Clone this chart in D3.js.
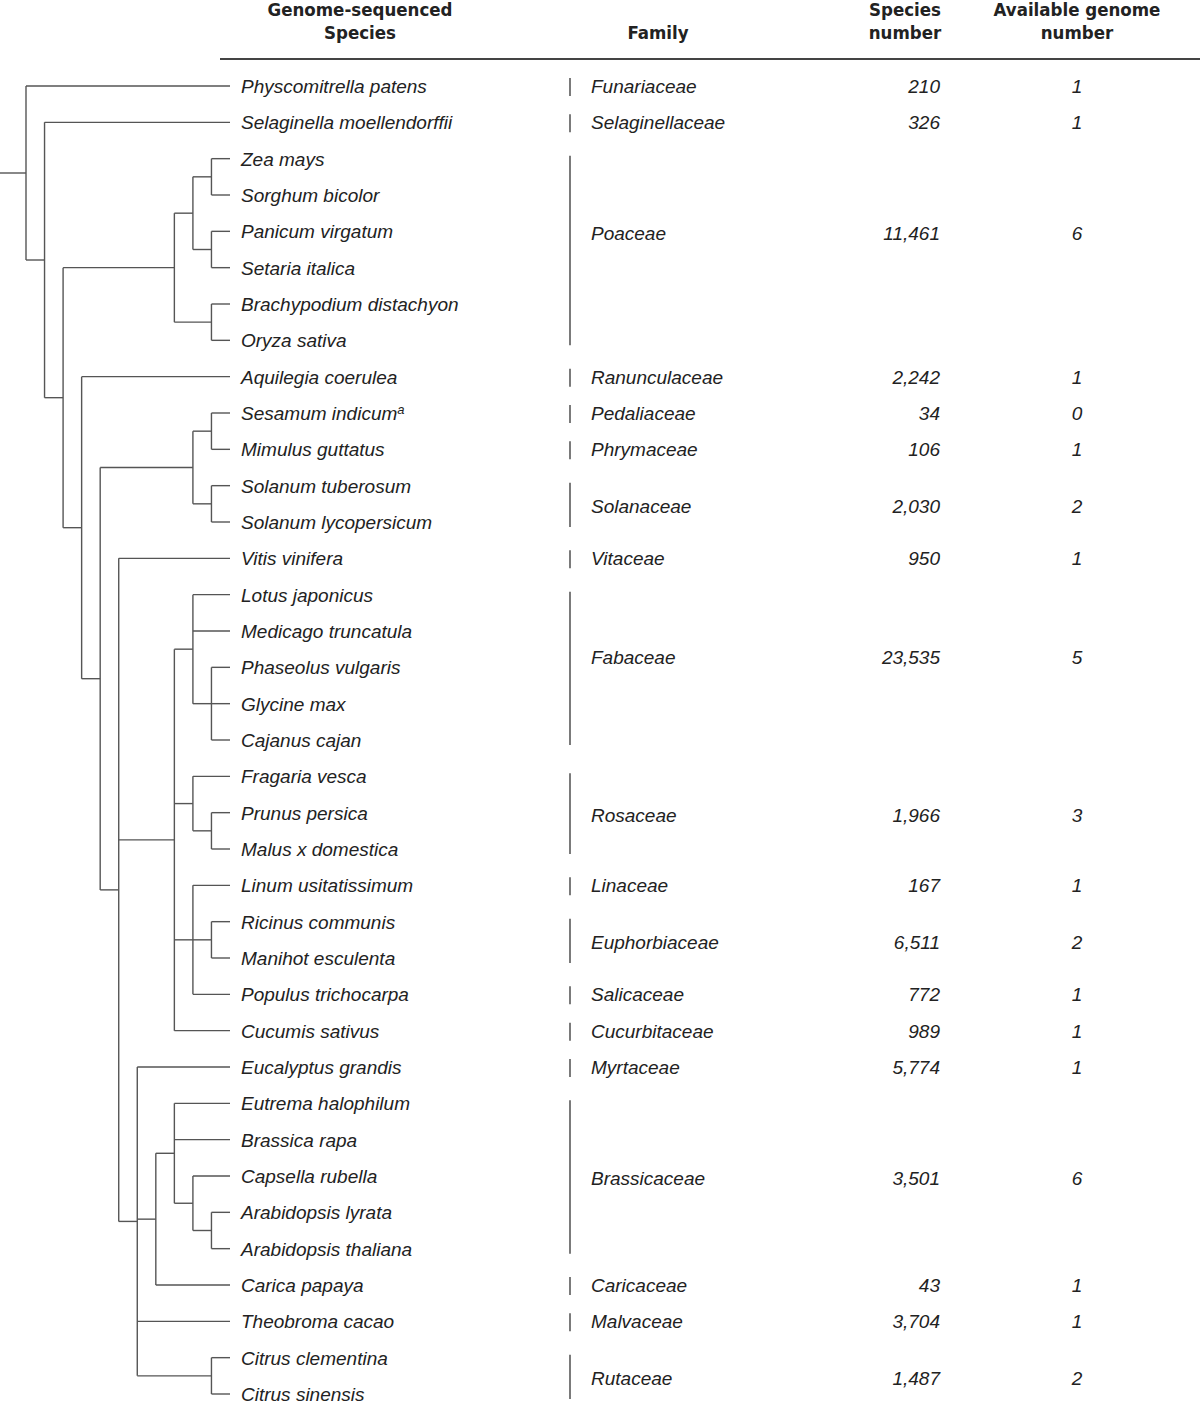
<!DOCTYPE html>
<html>
<head>
<meta charset="utf-8">
<script src="https://cdn.jsdelivr.net/npm/d3@7/dist/d3.min.js"></script>
<style>
  html, body { margin: 0; padding: 0; background: #fff; }
  svg { display: block; }
  .hdr { font-family: "Liberation Sans Narrow", "DejaVu Sans Condensed", "Liberation Sans", sans-serif; font-weight: bold; font-size: 18.5px; fill: #222; }
  .it { font-family: "Liberation Sans", Arial, sans-serif; font-style: italic; font-size: 19px; fill: #222; }
</style>
</head>
<body>
<svg id="chart" width="1200" height="1406"></svg>
<script>
// ---------------- DATA ----------------
// Phylogeny topology (nested lists of genome-sequenced species)
const phylogeny = [
  "Physcomitrella patens",
  ["Selaginella moellendorffii",
    [
      [[["Zea mays", "Sorghum bicolor"], ["Panicum virgatum", "Setaria italica"]],
        ["Brachypodium distachyon", "Oryza sativa"]],
      ["Aquilegia coerulea",
        [
          [["Sesamum indicum", "Mimulus guttatus"], ["Solanum tuberosum", "Solanum lycopersicum"]],
          ["Vitis vinifera",
            [
              ["Lotus japonicus", "Medicago truncatula", ["Phaseolus vulgaris", "Glycine max", "Cajanus cajan"]],
              ["Fragaria vesca", ["Prunus persica", "Malus x domestica"]],
              ["Linum usitatissimum", ["Ricinus communis", "Manihot esculenta"], "Populus trichocarpa"],
              "Cucumis sativus"
            ],
            ["Eucalyptus grandis",
              [["Eutrema halophilum", "Brassica rapa", ["Capsella rubella", ["Arabidopsis lyrata", "Arabidopsis thaliana"]]],
                "Carica papaya"],
              "Theobroma cacao",
              ["Citrus clementina", "Citrus sinensis"]
            ]
          ]
        ]
      ]
    ]
  ]
];

const superscripted = { "Sesamum indicum": "a" };

const families = ["Funariaceae", "Selaginellaceae", "Poaceae", "Ranunculaceae", "Pedaliaceae",
  "Phrymaceae", "Solanaceae", "Vitaceae", "Fabaceae", "Rosaceae", "Linaceae", "Euphorbiaceae",
  "Salicaceae", "Cucurbitaceae", "Myrtaceae", "Brassicaceae", "Caricaceae", "Malvaceae", "Rutaceae"];
const familyFirst = ["Physcomitrella patens", "Selaginella moellendorffii", "Zea mays", "Aquilegia coerulea",
  "Sesamum indicum", "Mimulus guttatus", "Solanum tuberosum", "Vitis vinifera", "Lotus japonicus",
  "Fragaria vesca", "Linum usitatissimum", "Ricinus communis", "Populus trichocarpa", "Cucumis sativus",
  "Eucalyptus grandis", "Eutrema halophilum", "Carica papaya", "Theobroma cacao", "Citrus clementina"];
const familyLast = ["Physcomitrella patens", "Selaginella moellendorffii", "Oryza sativa", "Aquilegia coerulea",
  "Sesamum indicum", "Mimulus guttatus", "Solanum lycopersicum", "Vitis vinifera", "Cajanus cajan",
  "Malus x domestica", "Linum usitatissimum", "Manihot esculenta", "Populus trichocarpa", "Cucumis sativus",
  "Eucalyptus grandis", "Arabidopsis thaliana", "Carica papaya", "Theobroma cacao", "Citrus sinensis"];
const speciesNumber = [210, 326, 11461, 2242, 34, 106, 2030, 950, 23535, 1966, 167, 6511, 772, 989, 5774, 3501, 43, 3704, 1487];
const genomeNumber = [1, 1, 6, 1, 0, 1, 2, 1, 5, 3, 1, 2, 1, 1, 1, 6, 1, 1, 2];

const headers = [
  { lines: ["Genome-sequenced", "Species"], col: "species" },
  { lines: ["Family"], col: "family" },
  { lines: ["Species", "number"], col: "count" },
  { lines: ["Available genome", "number"], col: "genomes" }
];

// ---------------- LAYOUT ----------------
const svg = d3.select("#chart");
const lineColor = "#555";

const root = d3.hierarchy(phylogeny, d => Array.isArray(d) ? d : null);
const leaves = root.leaves();
const leafIndex = new Map(leaves.map((l, i) => [l.data, i]));

// rows
const y = d3.scaleLinear().domain([0, leaves.length - 1]).range([86, 1394]);
// node depth counted from the tips (d3 "height")
const x = d3.scaleLinear().domain([0, root.height]).range([230, 26]);

root.eachAfter(n => {
  n.px = x(n.height);
  if (!n.children) n.py = y(leafIndex.get(n.data));
  else n.py = (n.children[0].py + n.children[n.children.length - 1].py) / 2;
});

const gTree = svg.append("g")
  .attr("fill", "none").attr("stroke", lineColor).attr("stroke-width", 1.4);

// root stub
gTree.append("line").attr("x1", 0).attr("x2", root.px).attr("y1", root.py).attr("y2", root.py);

root.descendants().filter(n => n.children).forEach(n => {
  const first = n.children[0], last = n.children[n.children.length - 1];
  gTree.append("line").attr("x1", n.px).attr("x2", n.px).attr("y1", first.py).attr("y2", last.py);
  n.children.forEach(c => {
    gTree.append("line").attr("x1", n.px).attr("x2", c.px).attr("y1", c.py).attr("y2", c.py);
  });
});

// species labels
const tSp = svg.append("g").selectAll("text").data(leaves).join("text")
  .attr("class", "it")
  .attr("x", 241)
  .attr("y", d => d.py)
  .attr("dy", "0.36em")
  .text(d => d.data);
tSp.filter(d => superscripted[d.data]).append("tspan")
  .attr("dy", "-0.45em").attr("font-size", "13px")
  .text(d => superscripted[d.data]);

// header
const colX = { species: 360, family: 658, count: 905, genomes: 1077 };
const gH = svg.append("g");
headers.forEach(h => {
  const n = h.lines.length;
  h.lines.forEach((ln, i) => {
    gH.append("text").attr("class", "hdr")
      .attr("text-anchor", "middle")
      .attr("x", colX[h.col])
      .attr("y", 39 - (n - 1 - i) * 23)
      .text(ln);
  });
});
svg.append("line").attr("x1", 220).attr("x2", 1200).attr("y1", 59).attr("y2", 59)
  .attr("stroke", "#444").attr("stroke-width", 2);

// families
const labelNudge = { Poaceae: -18, Fabaceae: -12 };
const fmt = d3.format(",");
const gF = svg.append("g");
families.forEach((f, i) => {
  const a = leafIndex.get(familyFirst[i]), b = leafIndex.get(familyLast[i]);
  const single = a === b;
  const y1 = single ? y(a) - 8 : y(a) - 3;
  const y2 = single ? y(a) + 10 : y(b) + 5;
  gF.append("line").attr("x1", 570).attr("x2", 570).attr("y1", y1).attr("y2", y2)
    .attr("stroke", "#333").attr("stroke-width", 1.3);
  const ly = (y(a) + y(b)) / 2 + (single ? 0 : 2) + (labelNudge[f] || 0);
  gF.append("text").attr("class", "it").attr("x", 591).attr("y", ly).attr("dy", "0.36em").text(f);
  gF.append("text").attr("class", "it").attr("x", 940).attr("y", ly).attr("dy", "0.36em")
    .attr("text-anchor", "end").text(fmt(speciesNumber[i]));
  gF.append("text").attr("class", "it").attr("x", 1077).attr("y", ly).attr("dy", "0.36em")
    .attr("text-anchor", "middle").text(genomeNumber[i]);
});
</script>
</body>
</html>
